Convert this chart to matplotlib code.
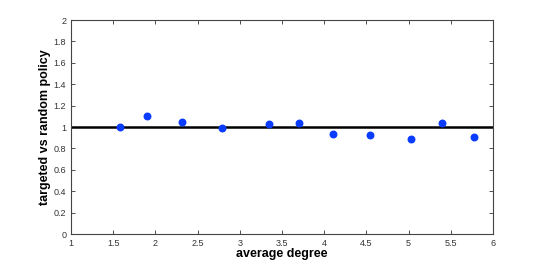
import matplotlib
matplotlib.use("Agg")
import matplotlib.pyplot as plt

plt.rcParams['font.family'] = ['Liberation Sans', 'DejaVu Sans']

# average degree vs ratio of targeted to random policy
avg_degree = [1.58, 1.90, 2.31, 2.79, 3.34, 3.70, 4.10, 4.54, 5.03, 5.39, 5.78]
ratio = [1.00, 1.10, 1.05, 0.995, 1.03, 1.04, 0.935, 0.922, 0.891, 1.04, 0.906]

xticks = [1, 1.5, 2, 2.5, 3, 3.5, 4, 4.5, 5, 5.5, 6]
yticks = [0, 0.2, 0.4, 0.6, 0.8, 1, 1.2, 1.4, 1.6, 1.8, 2]

fig = plt.figure(figsize=(5.45, 2.64), dpi=100)
ax = fig.add_axes([0.1303, 0.1136, 0.7743, 0.8106])

ax.axhline(1, color='black', linewidth=1.8, zorder=2)
ax.scatter(avg_degree, ratio, s=22, color='#0a3cff', zorder=3)

ax.set_xlim(1, 6)
ax.set_ylim(0, 2)
ax.set_xticks(xticks)
ax.set_xticklabels([f"{t:g}" for t in xticks])
ax.set_yticks(yticks)
ax.set_yticklabels([f"{t:g}" for t in yticks])
ax.tick_params(direction='in', length=3, labelsize=6.5, colors='#333333',
               top=True, right=True, width=0.6)
for s in ax.spines.values():
    s.set_color('#444444')
    s.set_linewidth(0.8)

ax.set_xlabel("average degree", fontsize=9, fontweight='bold', labelpad=0)
ax.set_ylabel("targeted vs random policy", fontsize=9, fontweight='bold', labelpad=2)

fig.savefig("out.png", dpi=100)
